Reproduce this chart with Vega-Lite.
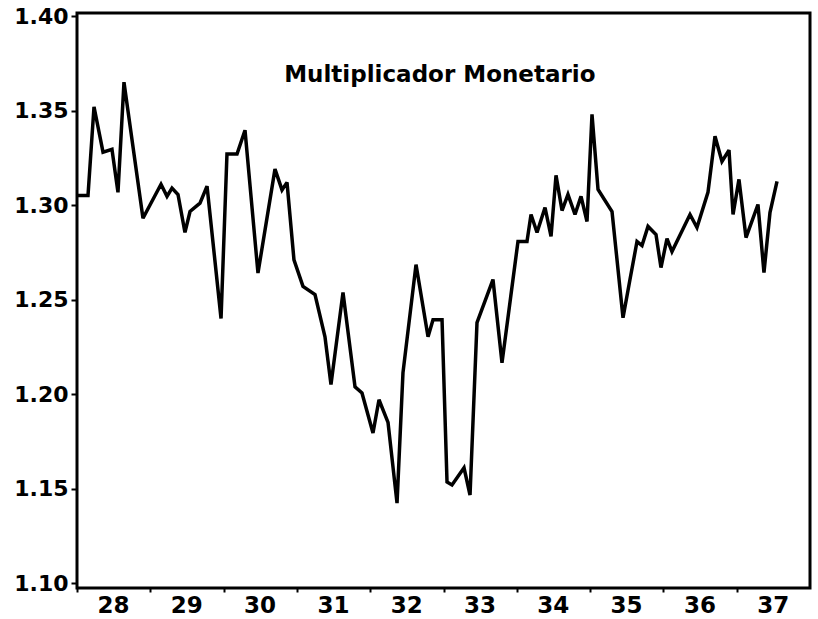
{
  "$schema": "https://vega.github.io/schema/vega-lite/v6.json",
  "width": 733,
  "height": 575,
  "autosize": "none",
  "padding": {"left": 77, "top": 13, "right": 8, "bottom": 31},
  "background": "white",
  "config": {
    "view": {"stroke": "black", "strokeWidth": 3},
    "axis": {
      "grid": false,
      "domain": false,
      "title": null,
      "labelFont": "DejaVu Sans",
      "labelFontWeight": "bold",
      "labelColor": "black",
      "tickColor": "black",
      "tickWidth": 2
    }
  },
  "layer": [
    {
      "data": {"values": [
        {"year": 1928.000, "value": 1.305},
        {"year": 1928.150, "value": 1.305},
        {"year": 1928.232, "value": 1.352},
        {"year": 1928.355, "value": 1.328},
        {"year": 1928.477, "value": 1.3295},
        {"year": 1928.559, "value": 1.3067},
        {"year": 1928.641, "value": 1.365},
        {"year": 1928.900, "value": 1.293},
        {"year": 1929.146, "value": 1.311},
        {"year": 1929.228, "value": 1.3046},
        {"year": 1929.296, "value": 1.309},
        {"year": 1929.378, "value": 1.3056},
        {"year": 1929.473, "value": 1.2855},
        {"year": 1929.542, "value": 1.2966},
        {"year": 1929.678, "value": 1.301},
        {"year": 1929.774, "value": 1.310},
        {"year": 1929.965, "value": 1.240},
        {"year": 1930.046, "value": 1.327},
        {"year": 1930.183, "value": 1.327},
        {"year": 1930.292, "value": 1.3396},
        {"year": 1930.469, "value": 1.264},
        {"year": 1930.701, "value": 1.319},
        {"year": 1930.797, "value": 1.308},
        {"year": 1930.865, "value": 1.312},
        {"year": 1930.960, "value": 1.271},
        {"year": 1931.083, "value": 1.257},
        {"year": 1931.247, "value": 1.2526},
        {"year": 1931.383, "value": 1.2303},
        {"year": 1931.465, "value": 1.205},
        {"year": 1931.629, "value": 1.2537},
        {"year": 1931.793, "value": 1.2038},
        {"year": 1931.888, "value": 1.2006},
        {"year": 1932.038, "value": 1.1794},
        {"year": 1932.120, "value": 1.197},
        {"year": 1932.243, "value": 1.185},
        {"year": 1932.366, "value": 1.1423},
        {"year": 1932.447, "value": 1.2112},
        {"year": 1932.625, "value": 1.2685},
        {"year": 1932.789, "value": 1.2303},
        {"year": 1932.857, "value": 1.2393},
        {"year": 1932.980, "value": 1.2393},
        {"year": 1933.048, "value": 1.1535},
        {"year": 1933.116, "value": 1.1519},
        {"year": 1933.280, "value": 1.161},
        {"year": 1933.362, "value": 1.1466},
        {"year": 1933.457, "value": 1.2378},
        {"year": 1933.675, "value": 1.2606},
        {"year": 1933.798, "value": 1.2165},
        {"year": 1934.016, "value": 1.2807},
        {"year": 1934.139, "value": 1.2807},
        {"year": 1934.194, "value": 1.295},
        {"year": 1934.276, "value": 1.2855},
        {"year": 1934.385, "value": 1.2987},
        {"year": 1934.467, "value": 1.2834},
        {"year": 1934.535, "value": 1.3157},
        {"year": 1934.617, "value": 1.2971},
        {"year": 1934.698, "value": 1.3056},
        {"year": 1934.794, "value": 1.295},
        {"year": 1934.876, "value": 1.3046},
        {"year": 1934.958, "value": 1.2913},
        {"year": 1935.026, "value": 1.348},
        {"year": 1935.108, "value": 1.3083},
        {"year": 1935.299, "value": 1.2966},
        {"year": 1935.449, "value": 1.2404},
        {"year": 1935.544, "value": 1.2606},
        {"year": 1935.640, "value": 1.2807},
        {"year": 1935.708, "value": 1.2786},
        {"year": 1935.790, "value": 1.2887},
        {"year": 1935.899, "value": 1.2844},
        {"year": 1935.967, "value": 1.2669},
        {"year": 1936.049, "value": 1.2823},
        {"year": 1936.117, "value": 1.2754},
        {"year": 1936.363, "value": 1.295},
        {"year": 1936.458, "value": 1.2881},
        {"year": 1936.608, "value": 1.3067},
        {"year": 1936.704, "value": 1.3364},
        {"year": 1936.799, "value": 1.3231},
        {"year": 1936.895, "value": 1.329},
        {"year": 1936.950, "value": 1.295},
        {"year": 1937.031, "value": 1.3136},
        {"year": 1937.127, "value": 1.2828},
        {"year": 1937.290, "value": 1.3003},
        {"year": 1937.372, "value": 1.2643},
        {"year": 1937.454, "value": 1.296},
        {"year": 1937.550, "value": 1.3125}
      ]},
      "mark": {"type": "line", "color": "black", "strokeWidth": 3.5, "strokeJoin": "miter", "strokeMiterLimit": 3, "clip": true},
      "encoding": {
        "x": {
          "field": "year",
          "type": "quantitative",
          "scale": {"domain": [1928, 1938], "nice": false, "zero": false},
          "axis": {
            "values": [1928, 1929, 1930, 1931, 1932, 1933, 1934, 1935, 1936, 1937],
            "format": "d",
            "labelExpr": "substring(datum.label, 2, 4)",
            "labelOffset": 36,
            "labelAlign": "center",
            "labelFontSize": 23,
            "labelPadding": 2,
            "tickSize": 4
          }
        },
        "y": {
          "field": "value",
          "type": "quantitative",
          "scale": {"domain": [1.0974, 1.4016], "nice": false, "zero": false},
          "axis": {
            "values": [1.10, 1.15, 1.20, 1.25, 1.30, 1.35, 1.40],
            "format": ".2f",
            "labelFontSize": 22,
            "labelPadding": 3,
            "tickSize": 6
          }
        }
      }
    },
    {
      "data": {"values": [{"label": "Multiplicador   Monetario"}]},
      "mark": {"type": "text", "font": "DejaVu Sans", "fontWeight": "bold", "fontSize": 23, "color": "black", "align": "center", "baseline": "middle"},
      "encoding": {
        "x": {"datum": 1932.95, "type": "quantitative"},
        "y": {"datum": 1.3688, "type": "quantitative"},
        "text": {"field": "label"}
      }
    }
  ]
}
